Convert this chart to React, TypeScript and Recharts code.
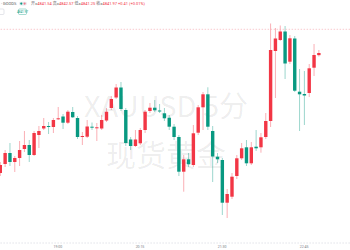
import React from 'react';
import { ComposedChart, Bar, XAxis, YAxis, ReferenceLine } from 'recharts';

// 5-minute candles, left to right
const opens = [
  4817.97, 4819.77, 4821.97, 4820.17, 4820.97, 4822.77, 4823.57, 4821.57, 4825.57, 4826.87,
  4827.37, 4827.17, 4828.77, 4829.27, 4828.03, 4830.17, 4828.97, 4825.17, 4825.23, 4827.23,
  4826.97, 4826.87, 4828.47, 4830.97, 4833.07, 4835.07, 4830.57, 4824.67, 4823.37, 4823.91,
  4826.57, 4830.37, 4831.03, 4830.47, 4829.91, 4829.03, 4827.23, 4825.17, 4818.23, 4820.71,
  4819.57, 4826.03, 4831.11, 4833.71, 4826.37, 4821.23, 4820.57, 4812.03, 4813.23, 4817.37,
  4820.91, 4823.11, 4819.91, 4823.23, 4823.11, 4825.17, 4828.37, 4842.37, 4844.57, 4846.27,
  4840.23, 4844.87, 4834.23, 4833.77, 4833.97, 4839.03, 4841.54,
];
const highs = [
  4820.17, 4822.57, 4823.97, 4821.37, 4824.37, 4826.37, 4824.57, 4826.37, 4827.37, 4828.97,
  4828.17, 4828.97, 4831.17, 4829.77, 4830.57, 4831.17, 4829.37, 4826.17, 4828.57, 4828.07,
  4827.97, 4829.57, 4830.97, 4833.37, 4835.77, 4836.17, 4830.97, 4825.17, 4826.57, 4826.97,
  4830.57, 4831.97, 4832.57, 4831.77, 4830.97, 4829.57, 4827.77, 4825.57, 4821.57, 4821.97,
  4827.57, 4831.57, 4834.17, 4835.11, 4827.37, 4821.97, 4820.97, 4814.77, 4817.97, 4821.57,
  4823.97, 4824.57, 4824.17, 4826.57, 4825.97, 4829.97, 4847.87, 4846.97, 4847.47, 4847.37,
  4845.57, 4845.37, 4838.77, 4838.37, 4839.77, 4843.77, 4842.57,
];
const lows = [
  4817.37, 4819.17, 4819.37, 4818.17, 4819.37, 4822.17, 4820.17, 4821.37, 4822.97, 4826.57,
  4825.77, 4825.97, 4828.57, 4826.77, 4827.77, 4828.97, 4824.77, 4823.57, 4824.97, 4826.57,
  4824.37, 4826.57, 4828.17, 4830.57, 4832.77, 4830.37, 4823.37, 4822.57, 4823.17, 4823.57,
  4825.97, 4829.97, 4830.17, 4829.97, 4828.37, 4826.57, 4824.57, 4817.37, 4814.23, 4819.17,
  4819.17, 4825.57, 4826.57, 4826.57, 4816.17, 4819.97, 4809.57, 4808.97, 4812.77, 4816.77,
  4820.57, 4819.37, 4819.57, 4822.37, 4822.03, 4824.77, 4827.17, 4832.97, 4844.37, 4836.77,
  4839.77, 4834.17, 4826.37, 4827.57, 4833.17, 4837.37, 4841.25,
];
const closes = [
  4819.57, 4821.97, 4820.17, 4820.97, 4822.57, 4823.57, 4821.57, 4825.97, 4826.37, 4827.37,
  4827.17, 4828.57, 4828.91, 4828.03, 4830.23, 4829.11, 4825.17, 4825.37, 4827.27, 4827.07,
  4827.11, 4828.57, 4830.23, 4832.77, 4835.07, 4830.77, 4823.97, 4823.37, 4824.67, 4826.57,
  4830.23, 4831.03, 4830.51, 4830.27, 4828.91, 4827.23, 4825.17, 4818.23, 4820.71, 4819.71,
  4825.91, 4831.11, 4833.71, 4827.23, 4821.27, 4820.71, 4812.03, 4813.77, 4817.23, 4820.91,
  4822.91, 4819.91, 4823.11, 4822.91, 4825.11, 4828.37, 4842.57, 4844.87, 4846.27, 4839.87,
  4844.91, 4834.43, 4833.71, 4833.47, 4838.91, 4841.57, 4841.97,
];

const tickIdx = [12, 29, 46, 63];
const tickLabels = ['19:00', '20:15', '21:30', '22:45'];

const markPrice = 4846.71;
const lastPrice = '4841.97';
const headerLabels = ['开', '高', '低', '收'];
const headerValues = ['4841.54', '4842.57', '4841.25', '4841.97'];
const headerChange = '+0.41 (+0.01%)';

const UP = '#f23645';
const DOWN = '#089981';

const data = opens.map((o, i) => ({ i, open: o, high: highs[i], low: lows[i], close: closes[i] }));

const Candle = (props: any) => {
  const { x, y, width, height, payload } = props;
  const { open, close, high, low } = payload;
  const color = close >= open ? UP : DOWN;
  const k = height / (high - low);
  const top = y + (high - Math.max(open, close)) * k;
  const bot = y + (high - Math.min(open, close)) * k;
  const cx = x + width / 2;
  return (
    <g>
      <line x1={cx} x2={cx} y1={y} y2={y + height} stroke={color} strokeOpacity={0.4} strokeWidth={1} />
      <rect x={x} y={top} width={width} height={Math.max(bot - top, 1)} fill={color} />
    </g>
  );
};

const font = 'Roboto, "Noto Sans CJK SC", sans-serif';

export default function App() {
  return (
    <div style={{ position: 'absolute', left: 0, top: 0, width: 350, height: 250, background: '#fff', overflow: 'hidden' }}>
      {/* watermark */}
      <svg width={350} height={250} style={{ position: 'absolute', left: 0, top: 0 }}>
        <text x={166} y={117} textAnchor="middle" fontSize={29} fill="#000" fillOpacity={0.08} fontFamily='"Noto Sans CJK SC", sans-serif'>
          XAUUSD 5分
        </text>
        <text x={166} y={166} textAnchor="middle" fontSize={30} fill="#000" fillOpacity={0.08} fontFamily='"Noto Sans CJK SC", sans-serif'>
          现货黄金
        </text>
      </svg>

      <div style={{ position: 'absolute', left: 0, top: 0 }}>
        <ComposedChart width={350} height={250} data={data} margin={{ top: 0, right: 0, bottom: 0, left: -2.4 }}>
          <XAxis
            dataKey="i"
            ticks={tickIdx}
            interval={0}
            tickFormatter={(v) => tickLabels[tickIdx.indexOf(v)] ?? ''}
            tickLine={false}
            tickSize={0}
            tickMargin={3}
            height={7}
            padding={{ left: 0, right: 29 }}
            axisLine={{ stroke: '#d1d4dc', strokeDasharray: '1 2' }}
            tick={{ fontSize: 3.5, fill: '#787b86', fontFamily: font }}
          />
          <YAxis hide width={0} type="number" domain={[4803.97, 4852.57]} />
          <ReferenceLine y={markPrice} stroke="#f5a5ad" strokeOpacity={0.6} strokeDasharray="1.5 1.5" />
          <Bar
            dataKey={(d: any) => [d.low, d.high]}
            barSize={3.4}
            shape={Candle}
            isAnimationActive={false}
          />
        </ComposedChart>
      </div>

      {/* header and price tag */}
      <svg width={350} height={20} style={{ position: 'absolute', left: 0, top: 0 }}>
        <text x={1} y={5} fontSize={4} fill="#555" fontFamily={font}>· GOODS</text>
        <rect x={19} y={1.8} width={8} height={3.6} rx={1.8} fill="#e6e9ef" />
        <circle cx={21.3} cy={3.6} r={1.1} fill={DOWN} />
        <circle cx={24.6} cy={3.6} r={1.1} fill={UP} fillOpacity={0.6} />
        <text x={31} y={5} fontSize={4} fontFamily={font}>
          {headerLabels.map((l, j) => (
            <React.Fragment key={l}>
              <tspan fill="#666">{(j ? ' ' : '') + l}=</tspan>
              <tspan fill={UP}>{headerValues[j]}</tspan>
            </React.Fragment>
          ))}
          <tspan fill={UP}> {headerChange}</tspan>
        </text>
        <rect x={-6} y={9} width={10} height={5.5} rx={1} fill="#fff" stroke="#d1d4dc" strokeWidth={0.6} />
        <rect x={18.5} y={9} width={8} height={5.5} rx={1} fill="#fff" stroke={DOWN} strokeWidth={0.6} strokeOpacity={0.6} />
        <text x={22.5} y={12.8} textAnchor="middle" fontSize={3} fill={DOWN} fontFamily={font}>{lastPrice}</text>
      </svg>
    </div>
  );
}
